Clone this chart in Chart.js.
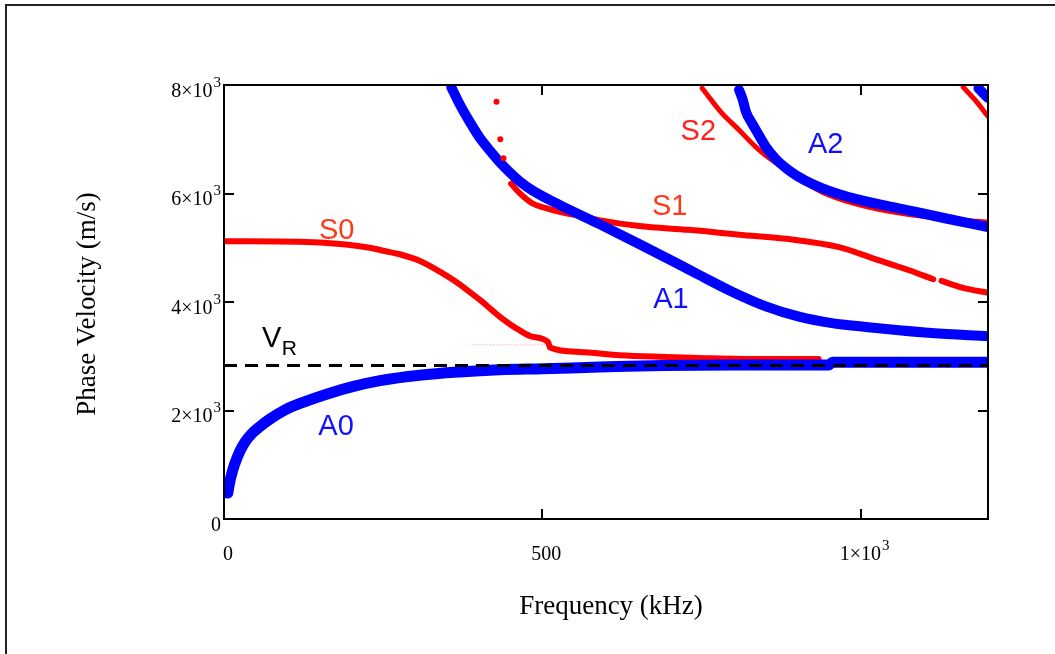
<!DOCTYPE html>
<html>
<head>
<meta charset="utf-8">
<script src="https://cdn.jsdelivr.net/npm/chart.js@4.4.1/dist/chart.umd.min.js"></script>
<style>
  html, body { margin: 0; padding: 0; background: #fff; }
  #wrap { position: relative; width: 1055px; height: 654px; overflow: hidden; }
  #sheet { position: absolute; left: 5px; top: 4px; width: 1200px; height: 800px;
           border-top: 2px solid #222; border-left: 2px solid #222; }
  canvas { position: absolute; left: 0; top: 0; }
</style>
</head>
<body>
<div id="wrap">
  <div id="sheet"></div>
  <canvas id="dispersion" width="1055" height="654"></canvas>
</div>
<script>
// Lamb-wave dispersion: frequency in kHz, phase velocity in m/s

// Antisymmetric modes
const a0Freq = [6, 9, 13, 17, 25, 33, 45, 56, 72, 96, 124, 166, 202, 245, 307, 370, 433, 500, 590, 690, 800, 950, 956, 1060, 1200];
const a0Vel  = [480, 680, 870, 1020, 1250, 1420, 1590, 1700, 1840, 2010, 2150, 2320, 2440, 2550, 2650, 2710, 2750, 2770, 2800, 2830, 2840, 2840, 2890, 2890, 2890];

const a1Freq = [357, 370, 386, 401, 417, 433, 448, 464, 484, 527, 589, 652, 715, 746, 798, 851, 903, 955, 1008, 1060, 1111, 1200];
const a1Vel  = [7960, 7650, 7320, 7040, 6800, 6580, 6400, 6230, 6060, 5790, 5440, 5070, 4690, 4500, 4190, 3920, 3730, 3610, 3540, 3480, 3430, 3370];

const a2Freq = [809, 815, 820, 829, 840, 851, 868, 887, 911, 939, 992, 1071, 1138, 1200];
const a2Vel  = [7910, 7720, 7500, 7300, 7080, 6860, 6620, 6430, 6250, 6100, 5900, 5700, 5530, 5380];

const a3Freq = [1185, 1200];
const a3Vel  = [7940, 7760];

// Symmetric modes
const s0Freq = [2, 119, 182, 229, 252, 276, 307, 339, 362, 382, 404, 420, 433, 448, 464, 484, 509, 512, 558, 621, 683, 746, 840, 934];
const s0Vel  = [5120, 5110, 5070, 5000, 4940, 4880, 4760, 4560, 4390, 4220, 4020, 3860, 3730, 3600, 3480, 3360, 3260, 3160, 3080, 3020, 2990, 2970, 2950, 2950];

const s1Freq = [451, 464, 484, 506, 527, 558, 589, 652, 730, 809, 887, 966, 1023, 1075, 1114, 1120, 1127, 1161, 1200];
const s1Vel  = [6180, 6010, 5820, 5730, 5660, 5590, 5510, 5400, 5330, 5240, 5160, 5010, 4790, 4590, 4420, null, 4390, 4260, 4170];

// stray S1 roots below cut-off
const s1StrayFreq = [428, 434, 439];
const s1StrayVel  = [7690, 7000, 6650];

const s2Freq = [751, 782, 809, 835, 860, 887, 939, 992, 1071, 1138, 1200];
const s2Vel  = [7940, 7480, 7170, 6860, 6620, 6400, 6030, 5810, 5620, 5530, 5470];

const s3Freq = [1161, 1180, 1200];
const s3Vel  = [7960, 7720, 7420];

// faint solver trace
const traceFreq = [389, 511];
const traceVel  = [3210, 3210];

// Rayleigh wave velocity
const rayleighVel = 2830;

// Axes
const freqRange = [0, 1200];
const velRange = [0, 8000];
const freqTicks = [0, 500, 1000];
const freqTickLabels = ['0', '500', '1×10³'];
const velTicks = [0, 2000, 4000, 6000, 8000];
const velTickLabels = ['0', '2×10³', '4×10³', '6×10³', '8×10³'];

const BLUE = '#0000ff';
const RED = '#ff0000';
const SERIF = '"Liberation Serif", "Times New Roman", serif';
const SANS = '"Liberation Sans", Arial, sans-serif';

function pts(xs, ys) { return xs.map((x, i) => ({ x: x, y: ys[i] })); }

// Mode name annotations (placed in data coordinates)
const modeLabels = [
  { text: 'S0', f: 177, v: 5310, color: '#ff3a1a' },
  { text: 'S1', f: 700, v: 5751, color: '#ff3a1a' },
  { text: 'S2', f: 745, v: 7134, color: '#ff2020' },
  { text: 'A0', f: 176, v: 1705, color: '#1010ff' },
  { text: 'A1', f: 702, v: 4040, color: '#1010ff' },
  { text: 'A2', f: 945, v: 6890, color: '#1010ff' }
];
const rayleighLabel = { text: 'V', sub: 'R', f: 75, v: 3318 };

function curve(label, xs, ys, color, width) {
  return {
    label: label,
    data: pts(xs, ys),
    borderColor: color,
    backgroundColor: color,
    borderWidth: width,
    borderCapStyle: 'round',
    borderJoinStyle: 'round',
    pointRadius: 0,
    cubicInterpolationMode: 'monotone',
    spanGaps: false,
    clip: 0
  };
}

// Draws "2×10³" style labels with a raised, smaller exponent
const SUPERSCRIPTS = { '⁰': '0', '¹': '1', '²': '2', '³': '3', '⁴': '4', '⁵': '5', '⁶': '6', '⁷': '7', '⁸': '8', '⁹': '9' };
function splitLabel(s) {
  let base = '', exp = '';
  for (const ch of s) { if (SUPERSCRIPTS[ch]) exp += SUPERSCRIPTS[ch]; else base += ch; }
  return { base, exp };
}
function drawTickLabel(ctx, text, x, baseline, align) {
  const { base, exp } = splitLabel(text);
  ctx.font = '20px ' + SERIF;
  const wb = ctx.measureText(base).width;
  ctx.font = '15px ' + SERIF;
  const we = exp ? ctx.measureText(exp).width + 1 : 0;
  const total = wb + we;
  let x0 = align === 'right' ? x - total : x - total / 2;
  ctx.textAlign = 'left';
  ctx.textBaseline = 'alphabetic';
  ctx.font = '20px ' + SERIF;
  ctx.fillText(base, x0, baseline);
  if (exp) {
    ctx.font = '15px ' + SERIF;
    ctx.fillText(exp, x0 + wb + 1, baseline - 10);
  }
}

const frameAndLabels = {
  id: 'frameAndLabels',
  afterDatasetsDraw(chart) {
    const { ctx, chartArea: a, scales: { x, y } } = chart;
    ctx.save();
    ctx.strokeStyle = '#000';
    ctx.lineWidth = 2;
    ctx.strokeRect(a.left, a.top, a.right - a.left, a.bottom - a.top);

    // inward tick marks on all four sides
    ctx.beginPath();
    freqTicks.forEach(v => {
      if (v <= x.min || v >= x.max) return;
      const px = Math.round(x.getPixelForValue(v));
      ctx.moveTo(px, a.bottom); ctx.lineTo(px, a.bottom - 10);
      ctx.moveTo(px, a.top); ctx.lineTo(px, a.top + 10);
    });
    velTicks.forEach(v => {
      if (v <= y.min || v >= y.max) return;
      const py = Math.round(y.getPixelForValue(v));
      ctx.moveTo(a.left, py); ctx.lineTo(a.left + 10, py);
      ctx.moveTo(a.right, py); ctx.lineTo(a.right - 10, py);
    });
    ctx.stroke();

    // tick labels
    ctx.fillStyle = '#000';
    x.ticks.forEach(t => {
      drawTickLabel(ctx, freqTickLabels[freqTicks.indexOf(t.value)], x.getPixelForValue(t.value) + 4, a.bottom + 41, 'center');
    });
    y.ticks.forEach(t => {
      drawTickLabel(ctx, velTickLabels[velTicks.indexOf(t.value)], a.left - 3, y.getPixelForValue(t.value) + 11.5, 'right');
    });

    // mode names
    ctx.font = '29px ' + SANS;
    ctx.textAlign = 'center';
    ctx.textBaseline = 'middle';
    modeLabels.forEach(l => {
      ctx.fillStyle = l.color;
      ctx.fillText(l.text, x.getPixelForValue(l.f), y.getPixelForValue(l.v));
    });

    // V_R
    const vx = x.getPixelForValue(rayleighLabel.f);
    const vy = y.getPixelForValue(rayleighLabel.v);
    ctx.fillStyle = '#000';
    ctx.fillText(rayleighLabel.text, vx, vy);
    ctx.font = '21px ' + SANS;
    ctx.textAlign = 'left';
    ctx.fillText(rayleighLabel.sub, vx + 10, vy + 10);
    ctx.restore();
  },
  afterDraw(chart) {
    const { ctx, chartArea: a } = chart;
    ctx.save();
    ctx.fillStyle = '#000';
    ctx.font = '27px ' + SERIF;
    ctx.textAlign = 'center';
    ctx.textBaseline = 'middle';
    ctx.fillText('Frequency (kHz)', (a.left + a.right) / 2 + 5, 607);
    ctx.translate(88, (a.top + a.bottom) / 2 + 2);
    ctx.rotate(-Math.PI / 2);
    ctx.fillText('Phase Velocity (m/s)', 0, 0);
    ctx.restore();
  }
};

new Chart(document.getElementById('dispersion'), {
  type: 'line',
  data: {
    datasets: [
      {
        label: 'V_R',
        data: [{ x: freqRange[0], y: rayleighVel }, { x: freqRange[1], y: rayleighVel }],
        borderColor: '#000',
        borderWidth: 3,
        borderDash: [13, 8],
        pointRadius: 0,
        clip: 0
      },
      {
        label: 'S1 stray',
        data: pts(s1StrayFreq, s1StrayVel),
        showLine: false,
        pointRadius: 3,
        pointBorderWidth: 0,
        pointBackgroundColor: RED,
        clip: 0
      },
      curve('A0', a0Freq, a0Vel, BLUE, 11),
      curve('A1', a1Freq, a1Vel, BLUE, 10),
      curve('A2', a2Freq, a2Vel, BLUE, 10),
      curve('A3', a3Freq, a3Vel, BLUE, 10),
      curve('S0', s0Freq, s0Vel, RED, 6),
      curve('S1', s1Freq, s1Vel, RED, 6),
      curve('S2', s2Freq, s2Vel, RED, 5),
      curve('S3', s3Freq, s3Vel, RED, 5),
      {
        label: 'trace',
        data: pts(traceFreq, traceVel),
        borderColor: 'rgba(255,90,90,0.7)',
        borderWidth: 1,
        borderDash: [1, 2],
        pointRadius: 0,
        clip: 0
      }
    ]
  },
  options: {
    responsive: false,
    animation: false,
    events: [],
    layout: { padding: { top: 85, right: 67, left: 0, bottom: 0 } },
    plugins: { legend: { display: false }, tooltip: { enabled: false } },
    scales: {
      x: {
        type: 'linear',
        min: freqRange[0],
        max: freqRange[1],
        afterBuildTicks: s => { s.ticks = freqTicks.map(v => ({ value: v })); },
        afterFit: s => { s.height = 135; },
        grid: { display: false, drawTicks: false },
        border: { display: false },
        ticks: { display: false }
      },
      y: {
        type: 'linear',
        min: velRange[0],
        max: velRange[1],
        afterBuildTicks: s => { s.ticks = velTicks.map(v => ({ value: v })); },
        afterFit: s => { s.width = 224; },
        grid: { display: false, drawTicks: false },
        border: { display: false },
        ticks: { display: false }
      }
    }
  },
  plugins: [frameAndLabels]
});
</script>
</body>
</html>
